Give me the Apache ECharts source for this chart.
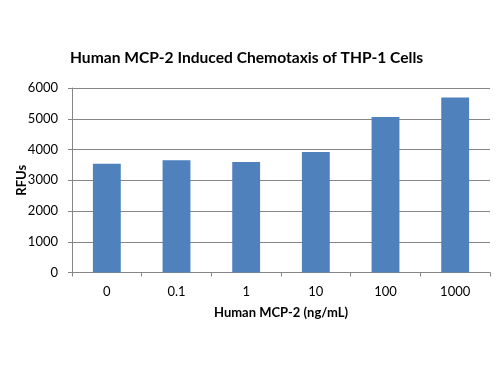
<!DOCTYPE html>
<html><head><meta charset="utf-8">
<script src="https://cdn.jsdelivr.net/npm/echarts@6/dist/echarts.min.js"></script>
<style>html,body{margin:0;padding:0;background:#fff}#c{width:500px;height:375px}</style>
</head><body><div id="c"></div>
<script>
const categories = ['0', '0.1', '1', '10', '100', '1000'];
const rfuValues = [3535, 3650, 3590, 3915, 5055, 5690];
const yTicks = [0, 1000, 2000, 3000, 4000, 5000, 6000];
const titleText = 'Human MCP-2 Induced Chemotaxis of THP-1 Cells';
const xName = 'Human MCP-2 (ng/mL)';
const yName = 'RFUs';

const chart = echarts.init(document.getElementById('c'), null, {renderer: 'canvas'});
const font = 'Lato, "Open Sans", sans-serif';
chart.setOption({
  animation: false,
  title: {
    text: titleText, left: 70, top: 50, padding: 0,
    textStyle: {fontFamily: font, fontSize: 15.6, fontWeight: 'bold', color: '#000'}
  },
  grid: {left: 72, right: 10, top: 88, bottom: 102.5, containLabel: false},
  xAxis: {
    type: 'category', data: categories,
    name: xName, nameLocation: 'middle', nameGap: 34, nameMoveOverlap: false,
    nameTextStyle: {fontFamily: font, fontSize: 13, fontWeight: 'bold', color: '#000'},
    axisLine: {lineStyle: {color: '#868686', width: 1}},
    axisTick: {show: true, alignWithLabel: false, length: 4, lineStyle: {color: '#868686'}},
    axisLabel: {fontFamily: font, fontSize: 13, color: '#000', margin: 13}
  },
  yAxis: {
    type: 'value', min: yTicks[0], max: yTicks[yTicks.length - 1], interval: 1000,
    name: yName, nameLocation: 'middle', nameGap: 44, nameRotate: 90, nameMoveOverlap: false,
    nameTextStyle: {fontFamily: font, fontSize: 13, fontWeight: 'bold', color: '#000'},
    axisLine: {show: true, lineStyle: {color: '#868686'}},
    axisTick: {show: true, length: 4, inside: false, lineStyle: {color: '#868686'}},
    splitLine: {lineStyle: {color: '#868686', width: 1}},
    axisLabel: {fontFamily: font, fontSize: 13, color: '#000', margin: 14,
      formatter: v => String(v)}
  },
  series: [{
    type: 'bar', data: rfuValues, barWidth: '40%',
    itemStyle: {color: '#4F81BD'}
  }]
});
</script></body></html>
